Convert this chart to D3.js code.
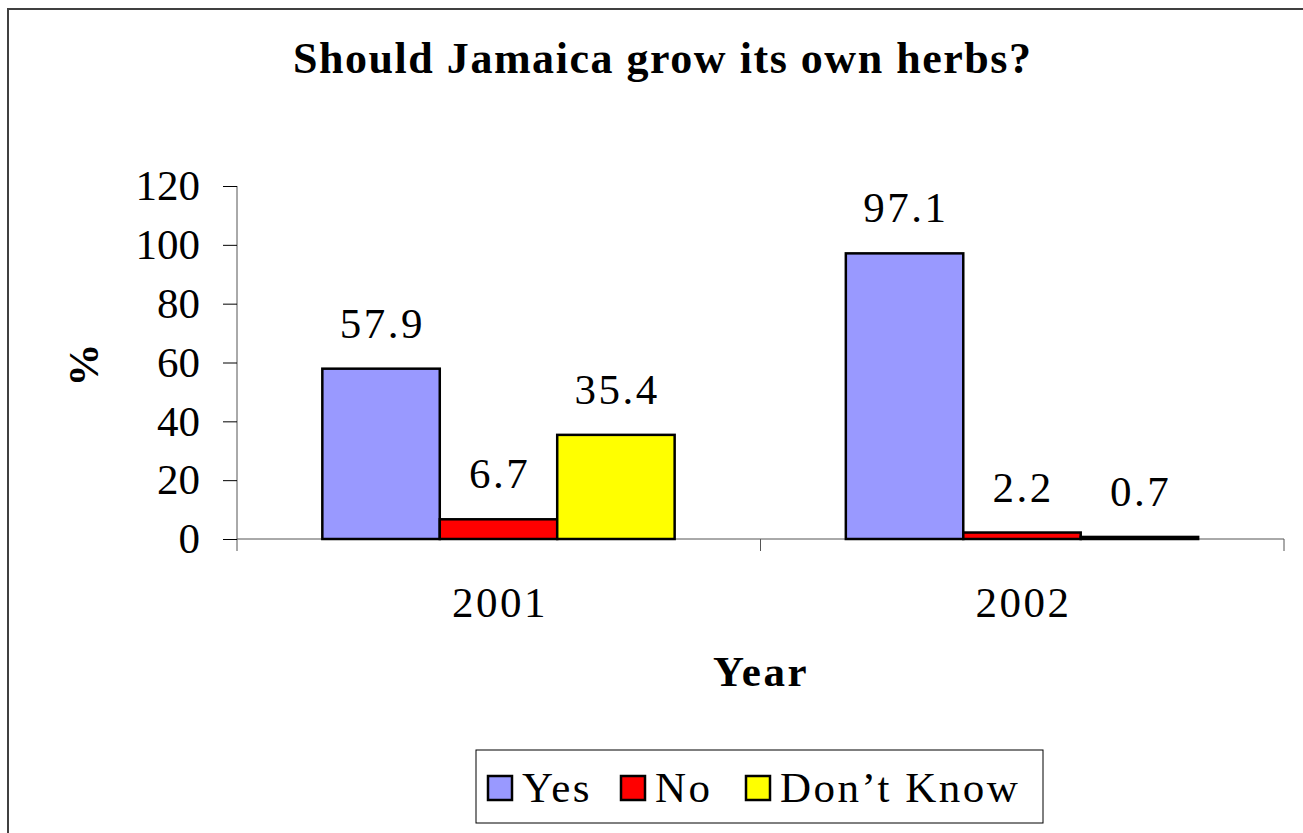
<!DOCTYPE html>
<html>
<head>
<meta charset="utf-8">
<script src="https://cdn.jsdelivr.net/npm/d3@7"></script>
<style>
  body { margin: 0; background: #fff; }
  svg { display: block; font-family: "Liberation Serif", "Times New Roman", serif; }
</style>
</head>
<body>
<svg width="1303" height="833"></svg>
<script>
// survey answers, percent
let years  = ['2001', '2002'];
let series = ['Yes', 'No', "Don\u2019t Know"];
let yes      = [57.9, 97.1],
    no       = [6.7, 2.2],
    dontKnow = [35.4, 0.7];
let yTicks = [0, 20, 40, 60, 80, 100, 120];
let colors = ['#9999ff', '#ff0000', '#ffff00'];

let values = [yes, no, dontKnow];
let rows = years.map((y, i) => series.map((s, j) => ({year: y, key: s, value: values[j][i], color: colors[j]})));

let svg = d3.select('svg');
let plotLeft = 237, plotRight = 1284, plotTop = 186, plotBottom = 539;
let fs = 43, ls = 2.5;

// frame round the whole chart
svg.append('rect')
    .attr('x', 8).attr('y', 9)
    .attr('width', 1320).attr('height', 860)
    .attr('fill', 'none')
    .attr('stroke', '#404040')
    .attr('stroke-width', 2);

let yScale = d3.scaleLinear().domain([0, 120]).range([plotBottom, plotTop]);
let x0 = d3.scaleBand().domain(years).range([plotLeft, plotRight]);
let bw = x0.bandwidth();
let x1 = d3.scaleBand().domain(series).range([bw * 0.163, bw * 0.836]);

//Title
svg.append('text')
    .attr('x', 293).attr('y', 73)
    .attr('font-size', 44).attr('font-weight', 'bold')
    .attr('textLength', 738).attr('lengthAdjust', 'spacing')
    .text('Should Jamaica grow its own herbs?');

//Y Axis
let yAxis = d3.axisLeft(yScale).tickValues(yTicks).tickSize(14).tickPadding(23);
let gy = svg.append('g')
    .attr('transform', `translate(${plotLeft}, 0)`)
    .call(yAxis);
gy.select('.domain').attr('stroke', '#555').attr('d', `M0,${plotTop}V${plotBottom + 12}`);
gy.selectAll('.tick line').attr('stroke', '#000');
gy.selectAll('text').attr('font-size', fs).attr('font-family', 'Liberation Serif').attr('fill', '#000');

//X Axis
let gx = svg.append('g')
    .attr('transform', `translate(0, ${plotBottom})`);
gx.append('path')
    .attr('d', `M${plotLeft},0H${plotRight}`)
    .attr('stroke', '#555').attr('fill', 'none');
gx.selectAll('line.tk')
  .data(years)
  .enter()
  .append('line')
    .attr('x1', d => x0(d) + bw).attr('x2', d => x0(d) + bw)
    .attr('y1', 0).attr('y2', 12)
    .attr('stroke', '#555');
gx.selectAll('text')
  .data(years)
  .enter()
  .append('text')
    .attr('x', d => x0(d) + bw / 2 + ls / 2)
    .attr('y', 78)
    .attr('font-size', fs)
    .attr('letter-spacing', ls)
    .style('text-anchor', 'middle')
    .text(d => d);

//Bars
let groups = svg.selectAll('g.year')
  .data(rows)
  .enter()
  .append('g')
    .attr('transform', (d, i) => `translate(${x0(years[i])}, 0)`);

groups.selectAll('rect')
  .data(d => d)
  .enter()
  .append('rect')
    .attr('x', d => x1(d.key))
    .attr('y', d => yScale(d.value))
    .attr('width', x1.bandwidth())
    .attr('height', d => plotBottom - yScale(d.value))
    .attr('fill', d => d.color)
    .attr('stroke', '#000')
    .attr('stroke-width', 2.5);

groups.selectAll('text')
  .data(d => d)
  .enter()
  .append('text')
    .attr('x', d => x1(d.key) + x1.bandwidth() / 2 + ls / 2)
    .attr('y', d => yScale(d.value) - 31)
    .attr('font-size', fs)
    .attr('letter-spacing', ls)
    .style('text-anchor', 'middle')
    .text(d => d.value);

//Axis titles
svg.append('text')
    .attr('x', 761).attr('y', 686)
    .attr('font-size', fs).attr('font-weight', 'bold')
    .attr('letter-spacing', ls)
    .style('text-anchor', 'middle')
    .text('Year');

svg.append('text')
    .attr('transform', 'rotate(-90)')
    .attr('x', -365).attr('y', 98)
    .attr('font-size', fs).attr('font-weight', 'bold')
    .style('text-anchor', 'middle')
    .text('%');

//Legend
let legend = svg.append('g').attr('transform', 'translate(476, 750)');
legend.append('rect')
    .attr('width', 567).attr('height', 73)
    .attr('fill', '#fff')
    .attr('stroke', '#000');
let legendX = [12, 145, 270];
let items = legend.selectAll('g.item')
  .data(series)
  .enter()
  .append('g')
    .attr('transform', (d, i) => `translate(${legendX[i]}, 26)`);
items.append('rect')
    .attr('width', 24).attr('height', 24)
    .attr('fill', (d, i) => colors[i])
    .attr('stroke', '#000')
    .attr('stroke-width', 2.5);
items.append('text')
    .attr('x', 34).attr('y', 26)
    .attr('font-size', fs)
    .attr('letter-spacing', ls)
    .text(d => d);
</script>
</body>
</html>
